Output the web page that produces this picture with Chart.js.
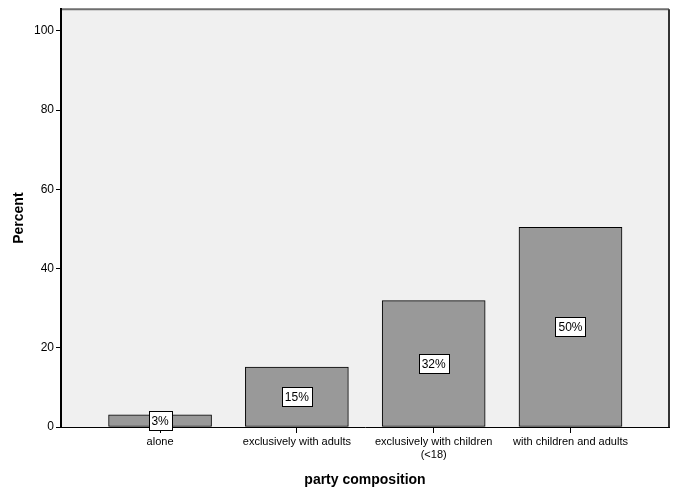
<!DOCTYPE html>
<html>
<head>
<meta charset="utf-8">
<script src="https://cdn.jsdelivr.net/npm/chart.js@4/dist/chart.umd.min.js"></script>
<style>
  html, body { margin: 0; padding: 0; background: #fff; }
  #wrap { width: 678px; height: 494px; }
</style>
</head>
<body>
<div id="wrap"><canvas id="c" width="678" height="494"></canvas></div>
<script>
const categories = ['alone', 'exclusively with adults', ['exclusively with children', '(<18)'], 'with children and adults'];
const percents = [3.1, 15.1, 31.9, 50.4];
const barLabels = ['3%', '15%', '32%', '50%'];
const yTicks = [0, 20, 40, 60, 80, 100];

const FONT = "'Liberation Sans', Arial, sans-serif";

// grey plot area with its frame, SPSS style
const frame = {
    id: 'frame',
    beforeDraw(chart) {
        const { ctx, chartArea: a } = chart;
        ctx.save();
        ctx.fillStyle = '#f0f0f0';
        ctx.fillRect(a.left, a.top, a.right - a.left, a.bottom - a.top);
        ctx.lineWidth = 2;
        ctx.strokeStyle = '#6e6e6e';
        ctx.beginPath();
        ctx.moveTo(a.left, a.top);
        ctx.lineTo(a.right, a.top);
        ctx.stroke();
        ctx.strokeStyle = '#333';
        ctx.beginPath();
        ctx.moveTo(a.right, a.top);
        ctx.lineTo(a.right, a.bottom);
        ctx.stroke();
        ctx.restore();
    }
};

// boxed percent labels in the middle of each bar
const boxLabels = {
    id: 'boxLabels',
    afterDatasetsDraw(chart) {
        const { ctx } = chart;
        const meta = chart.getDatasetMeta(0);
        ctx.save();
        ctx.font = '12px ' + FONT;
        ctx.textAlign = 'center';
        ctx.textBaseline = 'middle';
        meta.data.forEach((bar, i) => {
            const text = barLabels[i];
            const cx = bar.x;
            const cy = (bar.y + bar.base) / 2;
            const w = Math.round(ctx.measureText(text).width) + 6;
            const h = 19;
            const x0 = Math.round(cx - w / 2) + 0.5;
            const y0 = Math.round(cy - h / 2) + 0.5;
            ctx.fillStyle = '#fff';
            ctx.fillRect(x0, y0, w, h);
            ctx.strokeStyle = '#000';
            ctx.lineWidth = 1;
            ctx.strokeRect(x0, y0, w, h);
            ctx.fillStyle = '#000';
            ctx.fillText(text, cx, cy + 1);
        });
        ctx.restore();
    }
};

new Chart(document.getElementById('c'), {
    type: 'bar',
    data: {
        datasets: [{
            data: percents.map((v, i) => ({ x: i, y: v })),
            backgroundColor: '#999999',
            borderColor: '#000',
            borderWidth: 1,
            borderSkipped: false,
            barThickness: 103,
        }]
    },
    options: {
        responsive: false,
        animation: false,
        events: [],
        layout: { padding: { top: 7, right: 9, left: 0, bottom: 0 } },
        plugins: { legend: { display: false }, tooltip: { enabled: false } },
        scales: {
            x: {
                type: 'linear',
                offset: false,
                min: -0.724,
                max: 3.72,
                afterBuildTicks: (s) => { s.ticks = categories.map((c, i) => ({ value: i })); },
                afterFit: (s) => { s.height = 67; },
                grid: { offset: false, drawOnChartArea: false, drawTicks: true, tickLength: 6, color: '#000', lineWidth: 1 },
                border: { display: true, color: '#000', width: 1 },
                ticks: {
                    autoSkip: false,
                    maxRotation: 0,
                    padding: 2,
                    color: '#000',
                    font: { family: FONT, size: 11 },
                    callback: (v) => categories[v],
                },
                title: {
                    display: true,
                    text: 'party composition',
                    color: '#000',
                    font: { family: FONT, size: 14, weight: 'bold' },
                    padding: { top: 0, bottom: 5 },
                },
            },
            y: {
                min: 0,
                max: 105.5,
                afterBuildTicks: (s) => { s.ticks = yTicks.map((v) => ({ value: v })); },
                afterFit: (s) => { s.width = 61; },
                grid: { drawOnChartArea: false, drawTicks: true, tickLength: 5, color: '#000', lineWidth: 1 },
                border: { display: true, color: '#000', width: 2 },
                ticks: {
                    padding: 2,
                    color: '#000',
                    font: { family: FONT, size: 12 },
                },
                title: {
                    display: true,
                    text: 'Percent',
                    color: '#000',
                    font: { family: FONT, size: 14, weight: 'bold' },
                    padding: { top: 11, bottom: 0 },
                },
            },
        },
    },
    plugins: [frame, boxLabels],
});
</script>
</body>
</html>
